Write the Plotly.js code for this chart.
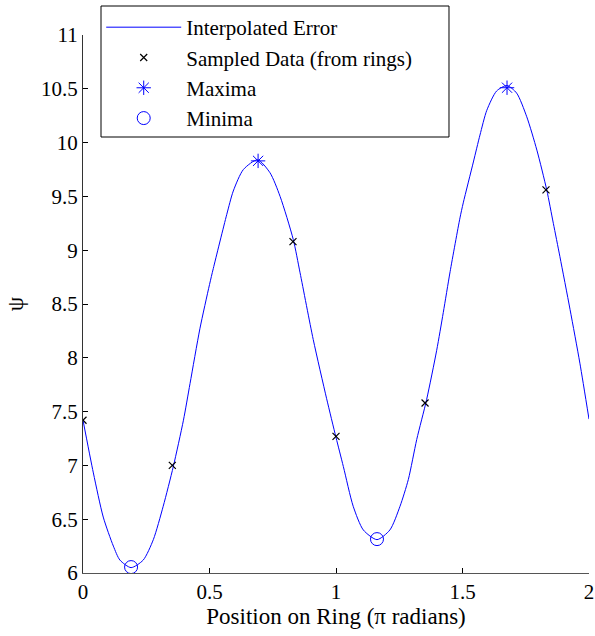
<!DOCTYPE html>
<html>
<head>
<meta charset="utf-8">
<script src="https://cdn.plot.ly/plotly-3.0.1.min.js"></script>
<style>html,body{margin:0;padding:0;background:#fff;}#chart{width:595px;height:636px;}</style>
</head>
<body>
<div id="chart"></div>
<script>
// Interpolated error curve
var curveX = [0, 0.041, 0.080, 0.12, 0.146, 0.19, 0.238, 0.278, 0.317, 0.357, 0.397, 0.423, 0.462, 0.50, 0.515, 0.568, 0.594, 0.634, 0.69, 0.739, 0.779, 0.831, 0.858, 0.910, 0.963, 1.0, 1.029, 1.068, 1.108, 1.162, 1.213, 1.253, 1.286, 1.319, 1.358, 1.398, 1.424, 1.451, 1.490, 1.503, 1.543, 1.569, 1.596, 1.635, 1.676, 1.714, 1.754, 1.794, 1.833, 1.859, 1.885, 1.925, 1.964, 2.0];
var curveY = [7.42, 6.93, 6.52, 6.25, 6.12, 6.05, 6.12, 6.31, 6.62, 6.99, 7.42, 7.76, 8.27, 8.68, 8.83, 9.33, 9.55, 9.75, 9.84, 9.72, 9.50, 9.10, 8.79, 8.17, 7.62, 7.26, 6.99, 6.62, 6.40, 6.31, 6.40, 6.62, 6.87, 7.24, 7.61, 8.07, 8.42, 8.80, 9.30, 9.44, 9.82, 10.07, 10.30, 10.48, 10.53, 10.46, 10.24, 9.93, 9.56, 9.25, 8.94, 8.45, 7.95, 7.43];
// Sampled data (from rings)
var sampleX = [0, 0.353, 0.83, 1.0, 1.352, 1.83];
var sampleY = [7.42, 7.0, 9.08, 7.27, 7.58, 9.56];
// Maxima
var maxX = [0.692, 1.676];
var maxY = [9.83, 10.51];
// Minima
var minX = [0.19, 1.162];
var minY = [6.055, 6.315];
var xTicks = [0, 0.5, 1, 1.5, 2];
var xTickText = ['0', '0.5', '1', '1.5', '2'];
var yTicks = [6, 6.5, 7, 7.5, 8, 8.5, 9, 9.5, 10, 10.5, 11];
var yTickText = ['6', '6.5', '7', '7.5', '8', '8.5', '9', '9.5', '10', '10.5', '11'];

var font = 'Liberation Serif, Times New Roman, serif';
var traces = [
  {x: curveX, y: curveY, mode: 'lines', name: 'Interpolated Error',
   line: {color: '#0000ff', width: 1, shape: 'spline', smoothing: 0.7}},
  {x: sampleX, y: sampleY, mode: 'markers', name: 'Sampled Data (from rings)',
   marker: {symbol: 'x-thin-open', size: 7, color: '#000', line: {width: 1.2, color: '#000'}}},
  {x: maxX, y: maxY, mode: 'markers', name: 'Maxima',
   marker: {symbol: 'asterisk-open', size: 12, color: '#0000ff', line: {width: 1, color: '#0000ff'}}},
  {x: minX, y: minY, mode: 'markers', name: 'Minima',
   marker: {symbol: 'circle-open', size: 13, color: '#0000ff', line: {width: 1, color: '#0000ff'}}}
];
var layout = {
  width: 595, height: 636,
  margin: {l: 83, r: 6, t: 35, b: 63},
  paper_bgcolor: '#fff', plot_bgcolor: '#fff',
  showlegend: true,
  font: {family: font, size: 21, color: '#000'},
  xaxis: {
    range: [0, 2], tickvals: xTicks, ticktext: xTickText,
    showgrid: false, zeroline: false, showline: true, linecolor: '#555', linewidth: 1,
    ticks: 'inside', ticklen: 5, tickcolor: '#000', mirror: false,
    tickfont: {family: font, size: 21, color: '#000'},
    title: {text: 'Position on Ring (\u03c0 radians)', font: {family: font, size: 23, color: '#000'}, standoff: 4}
  },
  yaxis: {
    range: [6, 11], tickvals: yTicks, ticktext: yTickText,
    showgrid: false, zeroline: false, showline: true, linecolor: '#333', linewidth: 1,
    ticks: 'inside', ticklen: 5, tickcolor: '#000', mirror: false,
    tickfont: {family: font, size: 21, color: '#000'},
    title: {text: '\u03c8', font: {family: font, size: 23, color: '#000'}, standoff: 10}
  },
  legend: {
    x: 0.036, y: 1.052, xanchor: 'left', yanchor: 'top',
    bgcolor: 'rgba(0,0,0,0)', borderwidth: 0,
    font: {family: font, size: 21, color: '#000'},
    itemwidth: 75, tracegroupgap: 0
  },
  shapes: [{
    type: 'rect', xref: 'paper', yref: 'paper', layer: 'above',
    x0: 0.0356, x1: 0.7233, y0: 0.8104, y1: 1.0539,
    line: {color: '#000', width: 1}, fillcolor: '#fff'
  }]
};
Plotly.newPlot('chart', traces, layout, {displayModeBar: false, staticPlot: true});
</script>
</body>
</html>
